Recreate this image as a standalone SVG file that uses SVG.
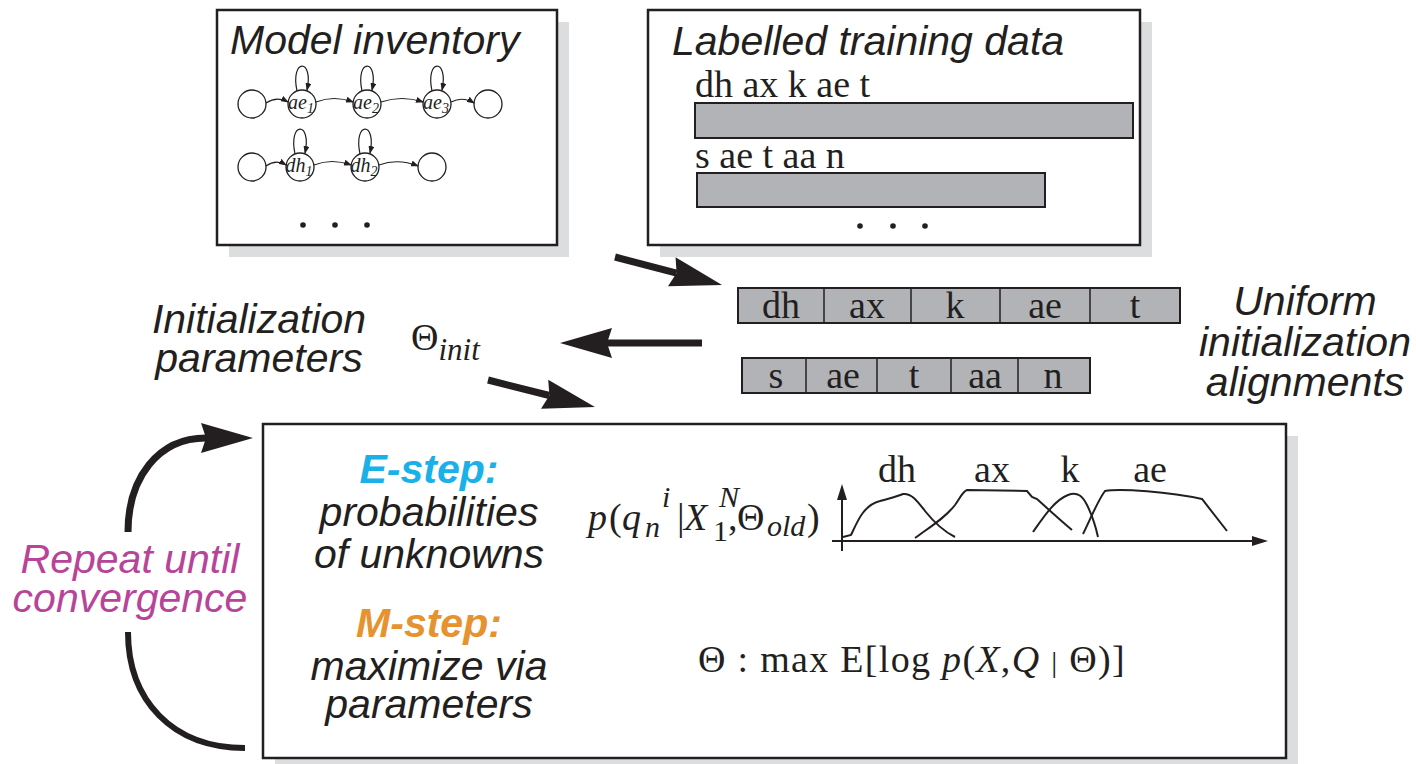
<svg xmlns="http://www.w3.org/2000/svg" width="1416" height="764" viewBox="0 0 1416 764">
<defs>
<style>
.box{fill:#fff;stroke:#231f20;stroke-width:2.5}
.shadow{fill:#dcdddf}
.bar{fill:#b1b3b6;stroke:#231f20;stroke-width:2}
.div{stroke:#231f20;stroke-width:1.5}
.sans{font-family:"Liberation Sans",Arial,Helvetica,sans-serif;font-style:italic;font-size:41px;fill:#231f20}
.bold{font-weight:bold}
.serif{font-family:"Liberation Serif","Times New Roman",serif;font-size:38px;fill:#231f20}
.it{font-style:italic}
.node{fill:#fff;stroke:#231f20;stroke-width:1.3}
.edge{fill:none;stroke:#231f20;stroke-width:1.2;marker-end:url(#sm)}
.nl{font-family:"Liberation Serif","Times New Roman",serif;font-style:italic;font-size:20px;fill:#231f20}
.big{fill:none;stroke:#231f20;stroke-width:7;marker-end:url(#bigArrow)}
.curve{fill:none;stroke:#231f20;stroke-width:2}
.dot{fill:#231f20}
</style>
<marker id="sm" markerUnits="userSpaceOnUse" markerWidth="8" markerHeight="6" refX="7" refY="3" orient="auto">
<path d="M0,0 L8,3 L0,6 Z" fill="#231f20"/>
</marker>
<marker id="bigArrow" markerUnits="userSpaceOnUse" markerWidth="53" markerHeight="32" refX="5" refY="16" orient="auto">
<path d="M0,1 L52,16 L0,31 L5,16 Z" fill="#231f20"/>
</marker>
<marker id="axArrow" markerUnits="userSpaceOnUse" markerWidth="16" markerHeight="10" refX="2" refY="5" orient="auto">
<path d="M0,0 L16,5 L0,10 Z" fill="#231f20"/>
</marker>
</defs>

<!-- Model inventory -->
<g id="model-inventory">
<rect class="shadow" x="229" y="22" width="340" height="235"/>
<rect class="box" x="217" y="10" width="340" height="235"/>
<text class="sans" x="230" y="54" font-size="42">Model inventory</text>
<g id="hmm-ae">
<circle class="node" cx="252" cy="104" r="14"/>
<circle class="node" cx="302" cy="104" r="14"/>
<circle class="node" cx="367" cy="104" r="14"/>
<circle class="node" cx="437" cy="104" r="14"/>
<circle class="node" cx="488" cy="104" r="14"/>
<text class="nl" x="301" y="109" text-anchor="middle">ae<tspan font-size="14" dy="4">1</tspan></text>
<text class="nl" x="366" y="109" text-anchor="middle">ae<tspan font-size="14" dy="4">2</tspan></text>
<text class="nl" x="436" y="109" text-anchor="middle">ae<tspan font-size="14" dy="4">3</tspan></text>
<path class="edge" d="M266,103 Q277,96 288,102"/>
<path class="edge" d="M316,102 Q334,95 353,102"/>
<path class="edge" d="M381,102 Q402,95 423,102"/>
<path class="edge" d="M451,102 Q463,96 474,103"/>
<path class="edge" d="M297,91 C290,58 314,58 307,90"/>
<path class="edge" d="M362,91 C355,58 379,58 372,90"/>
<path class="edge" d="M432,91 C425,58 449,58 442,90"/>
</g>
<g id="hmm-dh">
<circle class="node" cx="252" cy="167" r="14"/>
<circle class="node" cx="300" cy="167" r="14"/>
<circle class="node" cx="365" cy="167" r="14"/>
<circle class="node" cx="432" cy="167" r="14"/>
<text class="nl" x="299" y="172" text-anchor="middle">dh<tspan font-size="14" dy="4">1</tspan></text>
<text class="nl" x="364" y="172" text-anchor="middle">dh<tspan font-size="14" dy="4">2</tspan></text>
<path class="edge" d="M266,166 Q276,159 286,165"/>
<path class="edge" d="M314,165 Q332,158 351,165"/>
<path class="edge" d="M379,165 Q398,158 418,166"/>
<path class="edge" d="M295,154 C288,121 312,121 305,153"/>
<path class="edge" d="M360,154 C353,121 377,121 370,153"/>
</g>
<circle class="dot" cx="303" cy="225" r="2.8"/>
<circle class="dot" cx="335" cy="225" r="2.8"/>
<circle class="dot" cx="367" cy="225" r="2.8"/>
</g>

<!-- Labelled training data -->
<g id="training-data">
<rect class="shadow" x="660" y="22" width="492" height="235"/>
<rect class="box" x="648" y="10" width="492" height="235"/>
<text class="sans" x="672" y="55">Labelled training data</text>
<text class="serif" x="695" y="97" font-size="39">dh ax k ae t</text>
<rect class="bar" x="695" y="103" width="438" height="35"/>
<text class="serif" x="695" y="168" font-size="39">s ae t aa n</text>
<rect class="bar" x="697" y="173" width="348" height="34"/>
<circle class="dot" cx="860" cy="226" r="2.8"/>
<circle class="dot" cx="893" cy="226" r="2.8"/>
<circle class="dot" cx="925" cy="226" r="2.8"/>
</g>

<!-- Uniform alignments -->
<g id="alignments">
<rect class="bar" x="738" y="288" width="442" height="35"/>
<line class="div" x1="824" y1="288" x2="824" y2="323"/>
<line class="div" x1="911" y1="288" x2="911" y2="323"/>
<line class="div" x1="1000" y1="288" x2="1000" y2="323"/>
<line class="div" x1="1090" y1="288" x2="1090" y2="323"/>
<g class="serif" text-anchor="middle">
<text x="781" y="318">dh</text>
<text x="867" y="318">ax</text>
<text x="955" y="318">k</text>
<text x="1045" y="318">ae</text>
<text x="1135" y="318">t</text>
</g>
<rect class="bar" x="742" y="358" width="348" height="35"/>
<line class="div" x1="806" y1="358" x2="806" y2="393"/>
<line class="div" x1="877" y1="358" x2="877" y2="393"/>
<line class="div" x1="951" y1="358" x2="951" y2="393"/>
<line class="div" x1="1018" y1="358" x2="1018" y2="393"/>
<g class="serif" text-anchor="middle">
<text x="776" y="388">s</text>
<text x="843" y="388">ae</text>
<text x="914" y="388">t</text>
<text x="985" y="388">aa</text>
<text x="1053" y="388">n</text>
</g>
<g class="sans" text-anchor="middle">
<text x="1305" y="315">Uniform</text>
<text x="1305" y="356">initialization</text>
<text x="1305" y="396">alignments</text>
</g>
</g>

<!-- Initialization parameters -->
<g id="init-params">
<g class="sans" text-anchor="middle">
<text x="259" y="333">Initialization</text>
<text x="259" y="372">parameters</text>
</g>
<text class="serif" x="411" y="350" font-size="46">Θ<tspan class="it" font-size="31" dy="10">init</tspan></text>
</g>

<!-- EM box -->
<g id="em-box">
<rect class="shadow" x="275" y="436" width="1023" height="334"/>
<rect class="box" x="263" y="424" width="1023" height="334"/>
<g class="sans" text-anchor="middle">
<text class="bold" x="429" y="483" style="fill:#1ab0e8">E-step:</text>
<text x="429" y="526">probabilities</text>
<text x="429" y="568">of unknowns</text>
<text class="bold" x="429" y="637" style="fill:#e6922e">M-step:</text>
<text x="429" y="680">maximize via</text>
<text x="429" y="718">parameters</text>
</g>
<g id="formula-e" class="serif" font-size="44">
<text class="it" x="588" y="530">p</text>
<text x="609" y="530">(</text>
<text class="it" x="622" y="530">q</text>
<text class="it" x="645" y="537" font-size="30">n</text>
<text class="it" x="662" y="507" font-size="30">i</text>
<text x="677" y="530">|</text>
<text class="it" x="684" y="530">X</text>
<text x="713" y="541" font-size="30">1</text>
<text class="it" x="719" y="507" font-size="30">N</text>
<text x="728" y="530">,</text>
<text x="737" y="530">Θ</text>
<text class="it" x="767" y="536" font-size="30">old</text>
<text x="807" y="530">)</text>
</g>
<g id="graph">
<line x1="842" y1="551" x2="842" y2="498" stroke="#231f20" stroke-width="2" marker-end="url(#axArrow)"/>
<line x1="832" y1="541" x2="1254" y2="541" stroke="#231f20" stroke-width="2" marker-end="url(#axArrow)"/>
<path class="curve" d="M843,537 L851,535 C858,520 864,505 880,501 C890,498 896,497 903,494 C912,493 918,502 925,511 C933,521 943,531 955,537"/>
<path class="curve" d="M915,538 C930,527 945,518 955,505 C960,498 963,491 967,490 L1027,491 L1032,497 L1037,499 C1048,509 1060,520 1072,530"/>
<path class="curve" d="M1033,532 C1045,515 1055,500 1068,495 C1078,491 1083,497 1087,505 C1092,515 1096,528 1098,537"/>
<path class="curve" d="M1083,534 C1090,520 1098,500 1105,491 C1120,488 1170,492 1202,499 L1227,531"/>
<g class="serif" font-size="40" text-anchor="middle">
<text x="897" y="482">dh</text>
<text x="992" y="482">ax</text>
<text x="1070" y="482">k</text>
<text x="1150" y="482">ae</text>
</g>
</g>
<text class="serif" x="698" y="672" font-size="44" letter-spacing="1.3">Θ : max E[log <tspan class="it">p</tspan>(<tspan class="it">X</tspan>,<tspan class="it">Q</tspan> <tspan font-size="30">|</tspan> Θ)]</text>
</g>

<!-- Repeat label -->
<g id="repeat-label" class="sans" text-anchor="middle">
<text x="130" y="573" style="fill:#b8449a">Repeat until</text>
<text x="130" y="612" style="fill:#b8449a">convergence</text>
</g>

<!-- Connectors -->
<g id="connectors">
<path class="big" d="M615,257 L676.6,273.1"/>
<path class="big" d="M702,343 L607,343"/>
<path class="big" d="M488,380 L549.4,395.5"/>
<path class="big" stroke-width="6" d="M128,532 C128,478 158,438 206,438"/>
<path fill="none" stroke="#231f20" stroke-width="6" d="M128,632 C128,700 172,748 245,748"/>
</g>
</svg>
